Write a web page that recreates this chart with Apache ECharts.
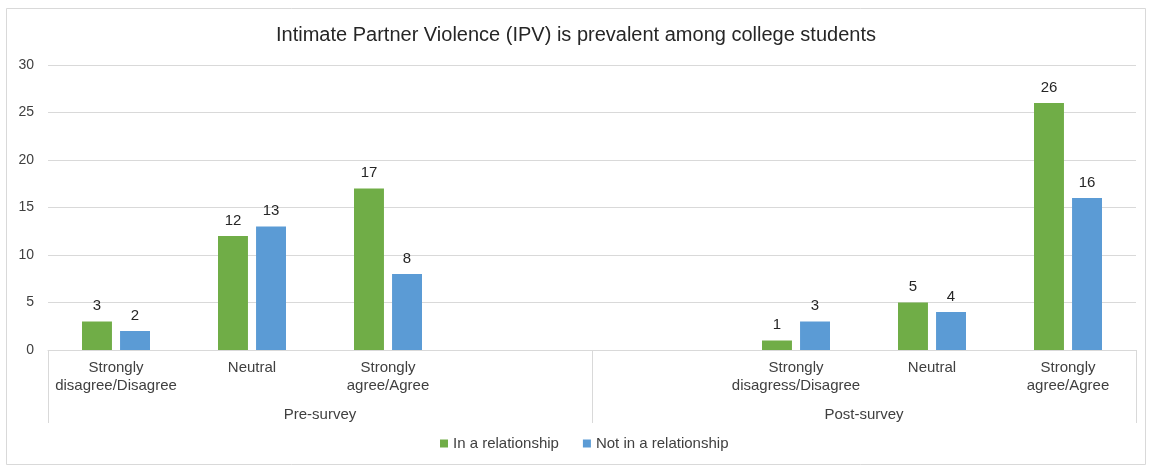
<!DOCTYPE html>
<html>
<head>
<meta charset="utf-8">
<script src="https://cdn.jsdelivr.net/npm/echarts@6/dist/echarts.min.js"></script>
<style>
html,body{margin:0;padding:0;background:#fff;}
#chart{width:1152px;height:466px;}
</style>
</head>
<body>
<div id="chart"></div>
<script>
var titleText = 'Intimate Partner Violence (IPV) is prevalent among college students';
var groups = ['Pre-survey', 'Post-survey'];
var preCategories = ['Strongly\ndisagree/Disagree', 'Neutral', 'Strongly\nagree/Agree', ''];
var postCategories = ['', 'Strongly\ndisagress/Disagree', 'Neutral', 'Strongly\nagree/Agree'];
var seriesNames = ['In a relationship', 'Not in a relationship'];
var inRelationship = [3, 12, 17, null, null, 1, 5, 26];
var notInRelationship = [2, 13, 8, null, null, 3, 4, 16];
var yTicks = [0, 5, 10, 15, 20, 25, 30];

var categories = preCategories.concat(postCategories);
var font = '"Liberation Sans", Arial, sans-serif';

var chart = echarts.init(document.getElementById('chart'), null, {renderer: 'canvas'});
chart.setOption({
  backgroundColor: '#fff',
  animation: false,
  title: {
    text: titleText,
    left: 'center',
    top: 20,
    textStyle: {fontFamily: font, fontSize: 20, fontWeight: 'normal', color: '#262626'}
  },
  legend: {
    bottom: 10,
    left: 435,
    itemWidth: 8,
    itemHeight: 8,
    itemGap: 24,
    icon: 'rect',
    textStyle: {fontFamily: font, fontSize: 15, color: '#404040'},
    data: seriesNames
  },
  graphic: [{
    type: 'rect',
    shape: {x: 6.5, y: 8.5, width: 1139, height: 456},
    style: {fill: 'none', stroke: '#d9d9d9', lineWidth: 1},
    silent: true
  }],
  grid: {left: 48, right: 16, top: 65, bottom: 116, containLabel: false},
  xAxis: [{
    type: 'category',
    data: categories,
    position: 'bottom',
    axisLine: {show: true, lineStyle: {color: '#d9d9d9', width: 1}},
    axisTick: {show: false},
    axisLabel: {
      interval: 0, margin: 9, lineHeight: 18,
      fontFamily: font, fontSize: 15, color: '#404040'
    }
  }, {
    type: 'category',
    data: groups,
    position: 'bottom',
    axisLine: {show: false},
    axisTick: {show: true, length: 73, alignWithLabel: false, lineStyle: {color: '#d9d9d9', width: 1}},
    axisLabel: {
      interval: 0, margin: 57,
      fontFamily: font, fontSize: 15, color: '#404040'
    }
  }],
  yAxis: {
    type: 'value',
    min: yTicks[0],
    max: yTicks[yTicks.length - 1],
    interval: yTicks[1] - yTicks[0],
    axisLine: {show: false},
    axisTick: {show: false},
    splitLine: {lineStyle: {color: '#d9d9d9', width: 1}},
    axisLabel: {margin: 14, fontFamily: font, fontSize: 14, color: '#404040'}
  },
  series: [{
    name: seriesNames[0],
    type: 'bar',
    xAxisIndex: 0,
    data: inRelationship,
    barGap: '27%',
    barCategoryGap: '50%',
    itemStyle: {color: '#70ad47'},
    label: {show: true, position: 'top', distance: 8, fontFamily: font, fontSize: 15, color: '#262626'}
  }, {
    name: seriesNames[1],
    type: 'bar',
    xAxisIndex: 0,
    data: notInRelationship,
    barGap: '27%',
    barCategoryGap: '50%',
    itemStyle: {color: '#5b9bd5'},
    label: {show: true, position: 'top', distance: 8, fontFamily: font, fontSize: 15, color: '#262626'}
  }]
});
</script>
</body>
</html>
